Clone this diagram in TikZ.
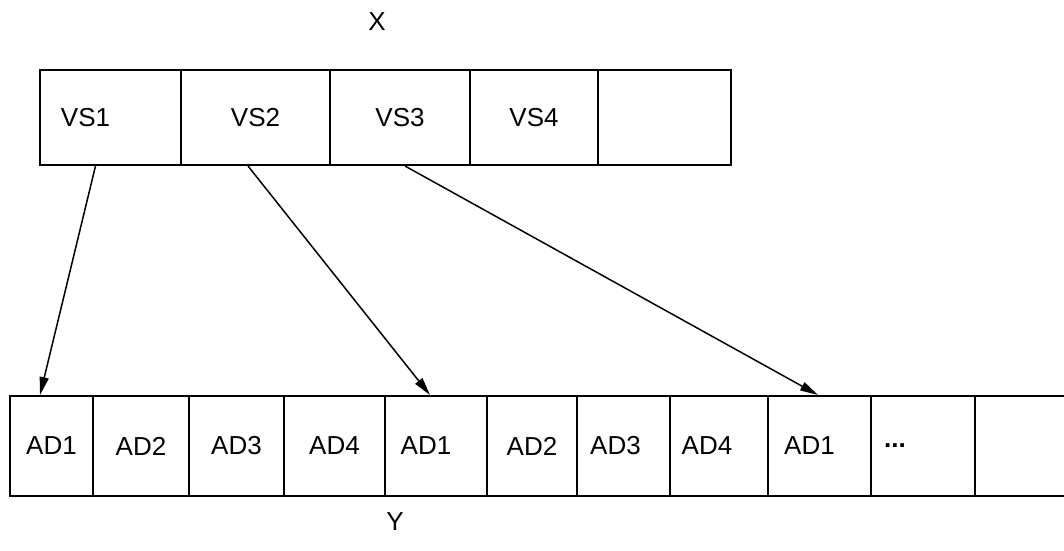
\documentclass[tikz,border=0pt]{standalone}
\usepackage{fontspec}
\setmainfont{Liberation Sans}
\usetikzlibrary{arrows.meta}

\begin{document}
\begin{tikzpicture}[x=1pt, y=-1pt, >={Triangle[length=18pt, width=9pt]},
  cell/.style  = {draw, line width=2pt, inner sep=0pt,
                  font=\fontsize{26}{30}\selectfont},
  vcell/.style = {cell, minimum height=95pt},
  acell/.style = {cell, minimum height=100pt},
  ptr/.style   = {->, line width=1.5pt},
  ttl/.style   = {font=\fontsize{26}{30}\selectfont}
]
  \useasboundingbox (0,0) rectangle (1064,550);

  %% X row
  \node[ttl] (xl) at (377,22) {X};
  \node[vcell, minimum width=141pt] (v1) at (110.5,117.5) {\hspace*{-50pt}VS1};
  \node[vcell, minimum width=149pt] (v2) at (255.5,117.5) {VS2};
  \node[vcell, minimum width=140pt] (v3) at (400,117.5)   {VS3};
  \node[vcell, minimum width=128pt] (v4) at (534,117.5)   {VS4};
  \node[vcell, minimum width=133pt] (v5) at (664.5,117.5) {};

  %% Y row
  \node[acell, minimum width=83pt]  (c1)  at (51.5,446)  {AD1};
  \node[acell, minimum width=96pt]  (c2)  at (141,446)   {AD2};
  \node[acell, minimum width=95pt]  (c3)  at (236.5,446) {AD3};
  \node[acell, minimum width=101pt] (c4)  at (334.5,446) {AD4};
  \node[acell, minimum width=102pt] (c5)  at (436,446)   {\hspace*{-20pt}AD1};
  \node[acell, minimum width=90pt]  (c6)  at (532,446)   {AD2};
  \node[acell, minimum width=93pt]  (c7)  at (623.5,446) {\hspace*{-16pt}AD3};
  \node[acell, minimum width=98pt]  (c8)  at (719,446)   {\hspace*{-24pt}AD4};
  \node[acell, minimum width=103pt] (c9)  at (819.5,446) {\hspace*{-20pt}AD1};
  \node[acell, minimum width=104pt] (c10) at (923,446)   {\hspace*{-56pt}\textbf{...}};
  \node[acell, minimum width=104pt] (c11) at (1027,446)  {};
  \node[ttl] (yl) at (395,522) {Y};

  %% pointers
  \draw[ptr] ([xshift=-15pt]v1.south) -- ([xshift=-11.5pt]c1.north);
  \draw[ptr] ([xshift=-7.5pt]v2.south) -- ([xshift=-6pt]c5.north);
  \draw[ptr] ([xshift=5pt]v3.south)   -- ([xshift=-1.5pt]c9.north);
\end{tikzpicture}
\end{document}
